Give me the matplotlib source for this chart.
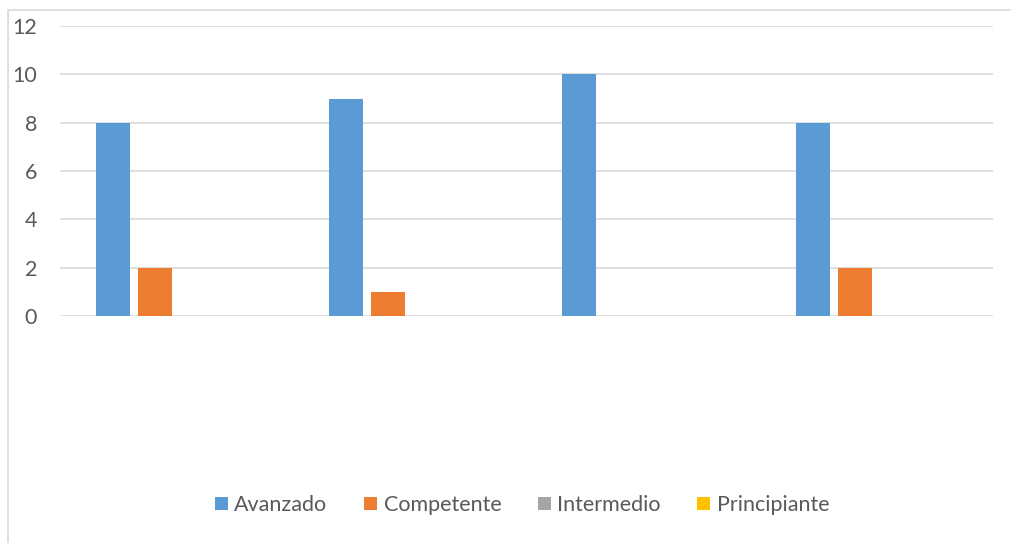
import numpy as np
import matplotlib
matplotlib.use('Agg')
import matplotlib.pyplot as plt
from matplotlib.patches import Rectangle

plt.rcParams['font.family'] = ['Lato', 'DejaVu Sans']

# niveles por grupo (4 grupos sin etiqueta)
groups = ['1', '2', '3', '4']
avanzado = [8, 9, 10, 8]
competente = [2, 1, 0, 2]
intermedio = [0, 0, 0, 0]
principiante = [0, 0, 0, 0]

series = [
    ('Avanzado', avanzado, '#5B9BD5'),
    ('Competente', competente, '#ED7D31'),
    ('Intermedio', intermedio, '#A5A5A5'),
    ('Principiante', principiante, '#FFC000'),
]

W, H = 1012, 543
fig = plt.figure(figsize=(W / 100, H / 100), dpi=100)

# marco del gráfico
fig.patches.append(Rectangle((8 / W, -0.05), 1.2, 1 - 10 / H + 0.05,
                             transform=fig.transFigure, fill=False,
                             edgecolor='#D9D9D9', linewidth=1.2))

ax = fig.add_axes([60 / W, (H - 316) / H, (993 - 60) / W, 290 / H])

x = np.arange(len(groups))
width = 0.146
step = 0.18
for k, (name, vals, color) in enumerate(series):
    ax.bar(x + (k - 1.5) * step, vals, width, color=color, label=name, zorder=3)

ax.set_xlim(-0.497, 3.503)
ax.set_ylim(0, 12)
ax.set_yticks(range(0, 13, 2))
ax.yaxis.grid(True, color='#D9D9D9', linewidth=1.2, zorder=0)
ax.set_xticks([])
for s in ax.spines.values():
    s.set_visible(False)
ax.tick_params(axis='y', length=0, pad=16.5, labelsize=15.5, labelcolor='#595959')

leg = fig.legend(loc='center', bbox_to_anchor=(0.516, 1 - 505 / H), ncol=4,
                 frameon=False, fontsize=15.5, handlelength=0.6, handleheight=0.6,
                 handletextpad=0.3, columnspacing=1.7)
for t in leg.get_texts():
    t.set_color('#595959')

fig.savefig('out.png', dpi=100)
